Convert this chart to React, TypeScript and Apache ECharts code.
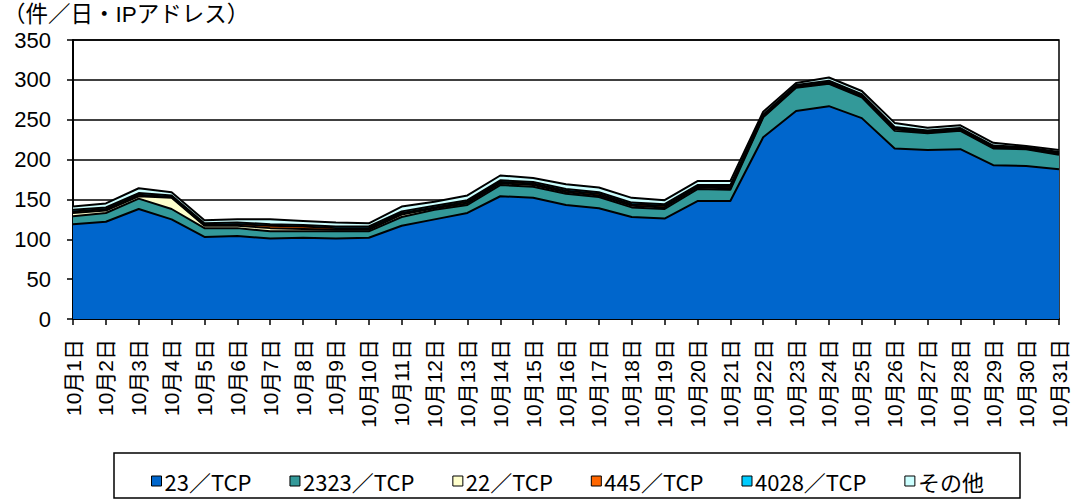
import React, { useEffect, useRef } from "react";
import * as echarts from "echarts";

const days: string[] = Array.from({ length: 31 }, (_, i) => `10月${i + 1}日`);

const s23: number[] = [119, 122, 138, 125, 103, 104, 101, 102, 101, 102, 117, 125, 133, 154, 152, 143, 139, 128, 126, 148, 148, 228, 261, 267, 252, 214, 212, 213, 193, 192, 188];
const s2323: number[] = [10, 11, 13, 13, 11, 10, 9, 8, 9, 8, 11, 12, 10, 14, 14, 14, 14, 12, 12, 15, 14, 25, 29, 28, 26, 22, 21, 23, 21, 21, 18];
const s22: number[] = [4, 3, 3, 14, 3, 3, 4, 3, 2, 2, 3, 2, 2, 2, 2, 2, 2, 2, 2, 2, 2, 1, 1, 1, 1, 2, 1, 1, 1, 1, 1];
const s445: number[] = [2, 2, 2, 1, 1, 2, 3, 3, 2, 2, 2, 1, 2, 2, 2, 2, 2, 2, 2, 1, 2, 1, 1, 1, 1, 1, 1, 1, 1, 0.5, 1];
const s4028: number[] = [2, 2, 2, 2, 2, 2, 2, 2, 2, 2, 2, 2, 2, 2, 2, 2, 2, 2, 2, 2, 2, 1.5, 1.5, 2, 2, 2, 1.5, 1.5, 1.5, 1, 1.5];
const sOther: number[] = [4, 5, 6, 4, 4, 4, 6, 5, 5, 4, 6, 5, 6, 6, 5, 6, 6, 6, 5, 5, 5, 3.5, 2.5, 4, 4, 5, 3.5, 3.5, 3.5, 1.5, 2.5];

const seriesNames: string[] = ["23／TCP", "2323／TCP", "22／TCP", "445／TCP", "4028／TCP", "その他"];
const seriesColors: string[] = ["#0066CC", "#339999", "#FFFFCC", "#FF6600", "#00CCFF", "#CCFFFF"];
const seriesData: number[][] = [s23, s2323, s22, s445, s4028, sOther];

const yTicks = { min: 0, max: 350, interval: 50 };
const unitTitle = "（件／日・IPアドレス）";

export default function App() {
  const ref = useRef<HTMLDivElement>(null);
  useEffect(() => {
    if (!ref.current) return;
    const chart = echarts.init(ref.current, undefined, { renderer: "svg" });
    const jp = "'Noto Sans CJK JP', sans-serif";
    const mixed = "'Liberation Sans', 'Noto Sans CJK JP', sans-serif";
    chart.setOption({
      animation: false,
      backgroundColor: "#fff",
      textStyle: { fontFamily: jp },
      grid: {
        left: 73,
        right: 19,
        top: 40,
        bottom: 181,
        show: true,
        borderColor: "#000",
        borderWidth: 1.5,
        backgroundColor: "transparent",
      },
      graphic: [
        {
          type: "text",
          left: 3,
          top: 3,
          style: { text: unitTitle, fontSize: 22.5, lineHeight: 23, fontFamily: mixed, fill: "#000" },
        },
        {
          type: "rect",
          shape: { x: 114, y: 453, width: 906, height: 45 },
          style: { fill: "#fff", stroke: "#000", lineWidth: 1.5 },
          z: -1,
        },
      ],
      legend: {
        left: 146,
        top: 465,
        icon: "rect",
        itemWidth: 10,
        itemHeight: 10,
        itemGap: 38,
        selectedMode: false,
        itemStyle: { borderColor: "#000", borderWidth: 1 },
        textStyle: { fontSize: 22, fontFamily: jp, color: "#000", padding: [0, 0, 0, -2] },
        data: seriesNames,
      },
      xAxis: {
        type: "category",
        boundaryGap: false,
        data: days,
        axisLine: { lineStyle: { color: "#000", width: 2 } },
        axisTick: { show: true, length: 6, lineStyle: { color: "#000", width: 1.5 }, interval: 0 },
        axisLabel: { interval: 0, rotate: 90, fontSize: 21, color: "#000", margin: 20, fontFamily: mixed },
      },
      yAxis: {
        type: "value",
        min: yTicks.min,
        max: yTicks.max,
        interval: yTicks.interval,
        axisLine: { show: true, lineStyle: { color: "#000", width: 2 } },
        axisTick: { show: true, length: 6, lineStyle: { color: "#000", width: 1.5 } },
        axisLabel: { fontSize: 22, color: "#000", margin: 22, lineHeight: 20, fontFamily: "'Liberation Sans', Arial, sans-serif" },
        splitLine: { show: true, lineStyle: { color: "#000", width: 1.5 } },
      },
      series: seriesNames.map((name, i) => ({
        name,
        type: "line",
        stack: "total",
        data: seriesData[i],
        symbol: "none",
        showSymbol: false,
        itemStyle: { color: seriesColors[i] },
        lineStyle: { color: "#000", width: 2 },
        areaStyle: { color: seriesColors[i], opacity: 1 },
      })),
    });
    return () => chart.dispose();
  }, []);
  return <div ref={ref} style={{ position: "fixed", left: 0, top: 0, width: 1078, height: 500 }} />;
}
